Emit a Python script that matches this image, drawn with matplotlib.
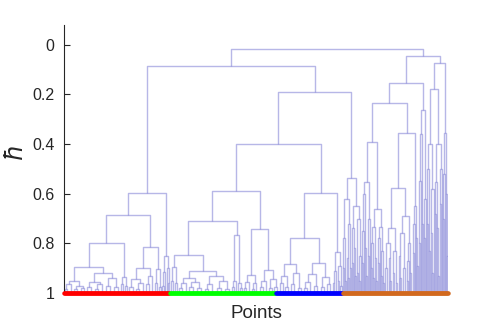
import matplotlib
matplotlib.use('Agg')
import matplotlib.pyplot as plt
from matplotlib.collections import LineCollection

# merge tree: [height, left, right], an int is a leaf of that width
red_a1a = [0.95, [0.965, [0.985, 2, 3], 4], [0.97, [0.985, 3, 3], [0.98, 4, 3]]]
red_a1b = [0.92, [0.955, [0.975, 3, 4], [0.965, [0.985, 4, 3], 5]], [0.94, [0.97, 3, 4], [0.975, 4, 4]]]
red_a2 = [0.935, [0.965, 2, 2], [0.97, 2, 2]]
red_b1 = [0.90, [0.945, [0.975, 3, 4], [0.96, [0.985, 3, 3], 4]], [0.93, [0.965, 3, 3], 3]]
red_b2 = [0.905, [0.96, 2, 2], [0.975, 2, 2]]
red_r2 = [0.85, [0.915, [0.97, 1, 2], 1], [0.90, 2, [0.96, 1, 1]]]
red = [0.597, [0.685, [0.80, [0.895, red_a1a, red_a1b], red_a2], [0.815, red_b1, red_b2]], red_r2]

green_1la = [0.894, [0.95, 2, 2], [0.96, 2, 2]]
green_1lb = [0.91, [0.94, [0.96, [0.98, 3, 3], 4], [0.955, [0.975, 3, 4], [0.98, 4, 5]]],
             [0.93, [0.965, [0.985, 3, 3], 5], [0.95, [0.98, 4, 4], [0.985, 4, 4]]]]
green_1r = [0.765, [0.95, [0.975, 2, 2], 2], [0.96, 2, [0.98, 2, 2]]]
green_2a = [0.927, [0.955, [0.98, 2, 3], 3], [0.96, [0.985, 2, 2], 4]]
green_2b = [0.907, [0.95, [0.975, 3, 3], 3], [0.945, [0.98, 3, 3], [0.975, 2, 3]]]
green = [0.59, [0.71, [0.847, green_1la, green_1lb], green_1r], [0.742, green_2a, green_2b]]

blue_a1 = [0.883, [0.93, [0.96, 3, 3], [0.975, 2, 3]], [0.92, [0.965, 3, 4], [0.98, 3, 3]]]
blue_a2 = [0.88, [0.925, [0.955, [0.98, 3, 3], 4], [0.97, 3, 4]], [0.935, [0.975, 3, 3], [0.965, 3, 4]]]
blue_b = [0.835, [0.91, [0.96, 1, 2], 2], [0.89, [0.95, 1, 1], [0.97, 2, 1]]]
blue = [0.597, [0.778, blue_a1, blue_a2], blue_b]

spike_a = [0.62, [0.78, [0.9, 1, 1], [0.95, 1, 1]], [0.72, [0.86, 1, [0.94, 1, 1]], [0.9, 1, 1]]]
spike_b = [0.65, [0.74, [0.88, 1, 1], [0.82, 1, [0.93, 1, 1]]], [0.70, [0.92, 1, 1], [0.85, [0.95, 1, 1], 1]]]
spikes = [0.536, spike_a, spike_b]

org_1 = [0.552, [0.60, [0.75, [0.88, 1, 1], 1], [0.82, 1, [0.93, 1, 1]]], [0.70, [0.85, 1, 1], 1]]
org_2 = [0.66, [0.735, [0.80, [0.90, 1, 1], [0.94, 1, 1]], [0.86, 1, [0.95, 1, 1]]],
         [0.735, [0.78, [0.88, 1, 1], 1], [0.83, [0.93, 1, 1], [0.96, 1, 1]]]]
org_3 = [0.74, [0.80, [0.90, 2, 2], [0.86, 1, [0.95, 1, 2]]], [0.83, [0.92, 1, 2], [0.96, 1, 2]]]
org_4 = [0.69, [0.76, [0.85, 1, [0.94, 1, 2]], [0.90, 2, 2]], [0.80, [0.87, [0.95, 1, 1], 1], [0.92, 1, 2]]]
org_5 = [0.65, [0.72, [0.84, 1, 1], 1], [0.78, 1, [0.89, 1, 1]]]
org_6 = [0.262, [0.36, [0.55, [0.80, 1, 1], 1], [0.72, 1, 1]], [0.62, [0.78, 1, 1], 1]]
org_7 = [0.40, [0.50, [0.72, 1, 1], [0.83, 1, 1]], [0.58, [0.76, 1, [0.92, 1, 1]], 1]]
org_8 = [0.40, [0.552, [0.68, 1, 1], [0.74, 1, [0.93, 1, 1]]], [0.50, [0.64, 1, 1], 1]]
org_9 = [0.355, [0.52, [0.70, 1, 1], 1], [0.60, 1, [0.85, 1, 1]]]
orange = [0.044, [0.153, [0.234, [0.39, org_1, org_2], [0.357, [0.577, org_3, org_4], org_5]], org_6],
          [0.073, [0.177, org_7, org_8], org_9]]

tree = [0.016, [0.086, red, [0.192, [0.40, green, blue], spikes]], orange]

group_sizes = [106, 106, 67, 106]
group_colors = ['#ff0000', '#00ff00', '#0000ff', '#d2691e']
yticks = [0, 0.2, 0.4, 0.6, 0.8, 1]
ytick_labels = ['0', '0.2', '0.4', '0.6', '0.8', '1']

plt.rcParams['font.family'] = ['Liberation Sans', 'DejaVu Sans']

segs = []


def place(node, start):
    if isinstance(node, int):
        return start + node / 2, 1.0, start + node
    h, left, right = node
    xl, hl, pos = place(left, start)
    xr, hr, pos = place(right, pos)
    segs.append([(xl, hl), (xl, h), (xr, h), (xr, hr)])
    return (xl + xr) / 2, h, pos


_, _, n_leaves = place(tree, 0)

fig = plt.figure(figsize=(4.95, 3.3), dpi=100)
ax = fig.add_axes([64 / 495, 37 / 330, 384 / 495, 268 / 330])

ax.add_collection(LineCollection(segs, colors='#7070d0', alpha=0.5, linewidths=1.0))

start = 0
for size, col in zip(group_sizes, group_colors):
    xs = [start + i + 0.5 for i in range(size)]
    ax.plot(xs, [1.0] * size, 'o', color=col, markersize=3.2, markeredgewidth=0, clip_on=False, zorder=3)
    start += size

ax.set_xlim(0, n_leaves)
ax.set_ylim(1.0, -0.08)
ax.set_yticks(yticks)
ax.set_yticklabels(ytick_labels)
ax.set_xticks([])
ax.tick_params(axis='y', direction='in', length=4, width=0.8, labelsize=11.5, colors='#262626', pad=7)
for s in ['top', 'right', 'bottom']:
    ax.spines[s].set_visible(False)
ax.spines['left'].set_color('#262626')
ax.spines['left'].set_linewidth(0.8)

ax.set_xlabel('Points', fontsize=13.5, color='#262626')
ax.xaxis.set_label_coords(0.5, -0.045)
ax.set_ylabel(r'$\hbar$', fontsize=17, color='#262626')
ax.yaxis.set_label_coords(-0.095, 0.52)

fig.savefig('out.png', dpi=100)
